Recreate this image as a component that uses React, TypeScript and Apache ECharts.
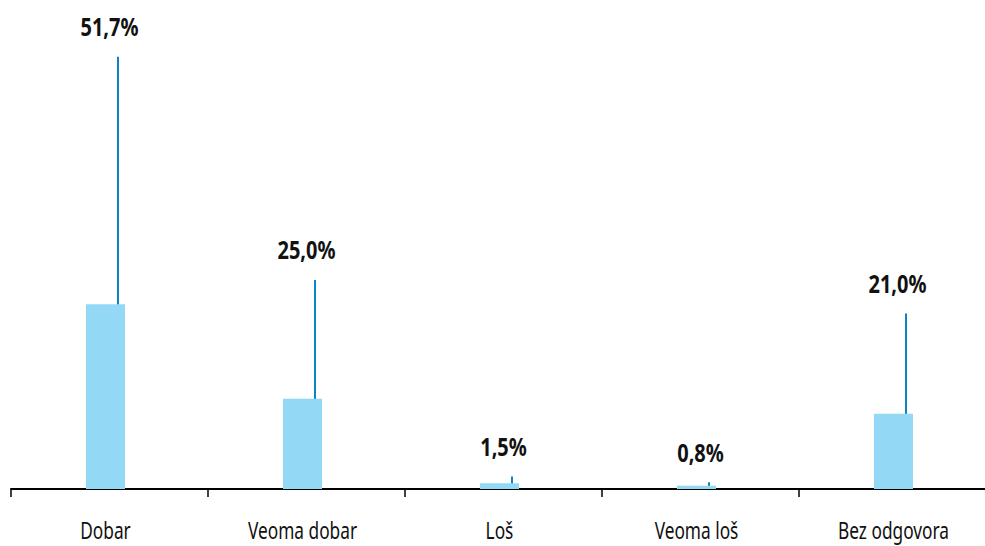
import React, { useEffect, useRef } from "react";
import * as echarts from "echarts";

const categories = ["Dobar", "Veoma dobar", "Loš", "Veoma loš", "Bez odgovora"];
const lineValues = [51.7, 25.0, 1.5, 0.8, 21.0];
const barValues = [22.1, 10.8, 0.7, 0.4, 9.0];
const labelTexts = ["51,7%", "25,0%", "1,5%", "0,8%", "21,0%"];

const FONT = "'Noto Sans', 'Open Sans', sans-serif";

export default function App() {
  const ref = useRef<HTMLDivElement>(null);
  useEffect(() => {
    if (!ref.current) return;
    const chart = echarts.init(ref.current, undefined, { renderer: "svg" });
    chart.setOption({
      animation: false,
      grid: { left: 11, top: 0, right: 0, height: 489 },
      xAxis: {
        type: "category",
        data: categories,
        boundaryGap: true,
        axisLine: { lineStyle: { color: "#000", width: 2 } },
        axisTick: { show: true, length: 8, lineStyle: { color: "#000", width: 1.5 } },
        axisLabel: { show: false },
      },
      yAxis: { type: "value", min: 0, max: 58.5, show: false, splitLine: { show: false } },
      series: [
        {
          type: "custom",
          z: 1,
          data: categories.map((c, i) => [i, lineValues[i]]),
          encode: { x: 0, y: 1 },
          renderItem: (params: any, api: any) => {
            const i = api.value(0);
            const base = api.coord([i, 0]);
            const top = api.coord([i, api.value(1)]);
            return {
              type: "group",
              children: [
                {
                  type: "line",
                  shape: { x1: base[0] + 8.5, y1: base[1], x2: base[0] + 8.5, y2: top[1] },
                  style: { stroke: "#0a84c2", lineWidth: 2 },
                },
                {
                  type: "text",
                  x: base[0],
                  y: top[1] - 30,
                  scaleX: 0.8,
                  style: {
                    text: labelTexts[i],
                    fill: "#111",
                    font: `bold 25px ${FONT}`,
                    textAlign: "center",
                    textVerticalAlign: "middle",
                  },
                },
                {
                  type: "text",
                  x: base[0] - 4,
                  y: base[1] + 41,
                  scaleX: 0.72,
                  style: {
                    text: categories[i],
                    fill: "#111",
                    font: `24px ${FONT}`,
                    lineHeight: 22,
                    textAlign: "center",
                    textVerticalAlign: "middle",
                  },
                },
              ],
            };
          },
        },
        {
          type: "custom",
          z: 2,
          data: categories.map((c, i) => [i, barValues[i]]),
          encode: { x: 0, y: 1 },
          renderItem: (params: any, api: any) => {
            const i = api.value(0);
            const base = api.coord([i, 0]);
            const top = api.coord([i, api.value(1)]);
            return {
              type: "rect",
              shape: { x: base[0] - 23.5, y: top[1], width: 39, height: base[1] - top[1] },
              style: { fill: "#93d9f6" },
            };
          },
        },
      ],
    });
    return () => chart.dispose();
  }, []);
  return (
    <div style={{ position: "fixed", left: 0, top: 0, width: 985, height: 546, overflow: "hidden", background: "#fff" }}>
      <div ref={ref} style={{ position: "absolute", left: 0, top: 0, width: 996, height: 546 }} />
    </div>
  );
}
